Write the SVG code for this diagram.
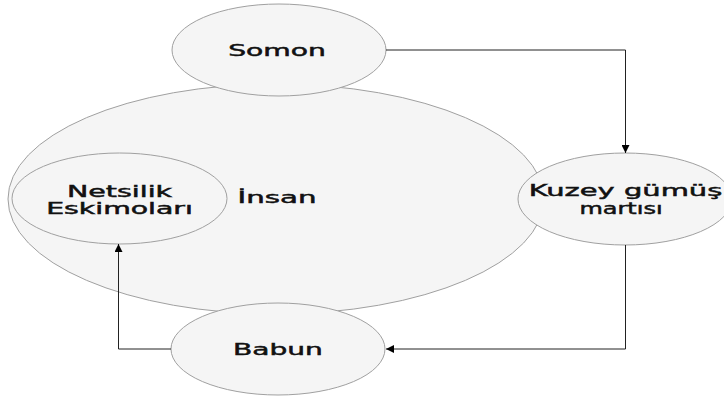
<svg xmlns="http://www.w3.org/2000/svg" width="724" height="397" viewBox="0 0 724 397">
<style>
.node{fill:#f5f5f5;stroke:#a0a0a0;stroke-width:1}
.lbl{font-family:"DejaVu Sans",Verdana,sans-serif;font-size:15px;fill:#111;stroke:#111;stroke-width:0.45;text-anchor:middle}
.edge{fill:none;stroke:#222;stroke-width:1}
</style>
<defs>
<marker id="arr" viewBox="0 0 10 10" refX="10" refY="5" markerWidth="8" markerHeight="8" markerUnits="userSpaceOnUse" orient="auto">
<path d="M0,0 L10,5 L0,10 z" fill="#000"/>
</marker>
</defs>
<rect width="724" height="397" fill="#fff"/>
<g id="insan">
<ellipse class="node" cx="276" cy="199" rx="268" ry="115"/>
<text class="lbl" transform="translate(277,203) scale(1.95,1)">İnsan</text>
</g>
<g id="somon">
<ellipse class="node" cx="279" cy="50" rx="107" ry="46"/>
<text class="lbl" transform="translate(277,56) scale(1.88,1)">Somon</text>
</g>
<g id="babun">
<ellipse class="node" cx="278" cy="349" rx="107" ry="46"/>
<text class="lbl" transform="translate(278,355) scale(1.87,1)">Babun</text>
</g>
<g id="netsilik">
<ellipse class="node" cx="119.5" cy="198.5" rx="107.5" ry="45.5"/>
<text class="lbl" transform="translate(119.5,197) scale(1.9,1)">Netsilik</text>
<text class="lbl" transform="translate(119.5,214) scale(1.89,1)">Eskimoları</text>
</g>
<g id="kuzey">
<ellipse class="node" cx="625" cy="199" rx="107" ry="46"/>
<text class="lbl" transform="translate(625.5,196) scale(1.93,1)">Kuzey gümüş</text>
<text class="lbl" transform="translate(621,214) scale(1.6,1)">martısı</text>
</g>
<g id="connectors">
<path class="edge" d="M386,50 H625.5 V153" marker-end="url(#arr)"/>
<path class="edge" d="M625.5,245 V349 H386" marker-end="url(#arr)"/>
<path class="edge" d="M171,349 H118.5 V244" marker-end="url(#arr)"/>
</g>
</svg>
